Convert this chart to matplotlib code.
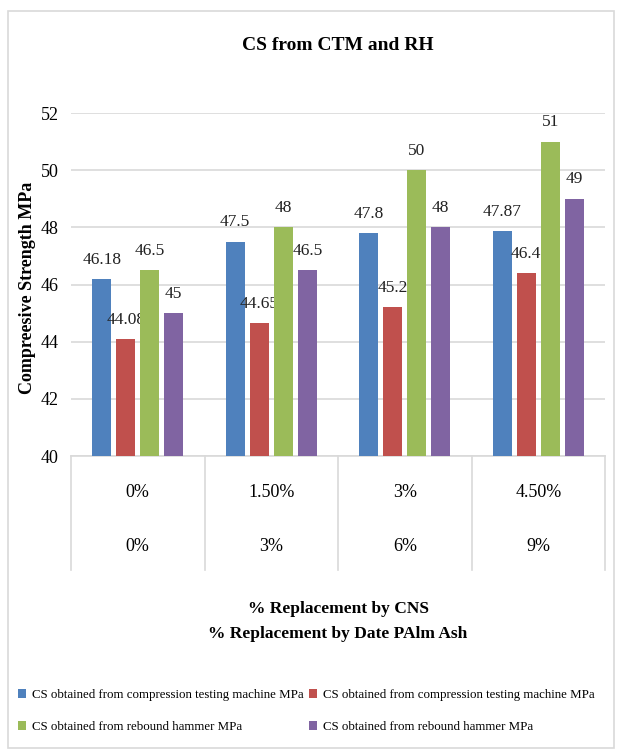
import matplotlib.pyplot as plt
import matplotlib.patches as mpatches
import numpy as np

# Replacement levels (two-row category axis)
cns_levels = ["0%", "1.50%", "3%", "4.50%"]
ash_levels = ["0%", "3%", "6%", "9%"]

# Compressive strength, MPa
ctm_a = [46.18, 47.5, 47.8, 47.87]
ctm_b = [44.08, 44.65, 45.2, 46.4]
rh_a = [46.5, 48, 50, 51]
rh_b = [45, 46.5, 48, 49]

series_names = [
    "CS obtained from compression testing machine MPa",
    "CS obtained from compression testing machine MPa",
    "CS obtained from rebound hammer MPa",
    "CS obtained from rebound hammer MPa",
]
colors = ["#4F81BD", "#C0504D", "#9BBB59", "#8064A2"]

plt.rcParams['font.family'] = ['Liberation Serif', 'DejaVu Serif']
grid_color = '#D9D9D9'

fig = plt.figure(figsize=(6.19, 7.53), dpi=100)
ax = fig.add_axes([0.1147, 0.3944, 0.8627, 0.4555])

# outer chart frame
fig.patches.append(mpatches.Rectangle((8 / 619, 1 - 748 / 753), 606 / 619, 737 / 753,
                                      transform=fig.transFigure, fill=False,
                                      edgecolor=grid_color, linewidth=1.2))

x = np.arange(len(cns_levels))
offsets = [-0.27, -0.09, 0.09, 0.27]
width = 0.143
handles = []
for vals, off, col, name in zip([ctm_a, ctm_b, rh_a, rh_b], offsets, colors, series_names):
    bars = ax.bar(x + off, vals, width, bottom=0, color=col, label=name, zorder=3)
    handles.append(bars)
    for b, v in zip(bars, vals):
        ax.annotate(f"{v:g}", (b.get_x() + b.get_width() / 2, v), xytext=(0, 14),
                    textcoords='offset points', ha='center', va='center',
                    fontsize=12.5, color='#222222', clip_on=False)

ax.set_ylim(40, 52)
ax.set_xlim(-0.5, len(cns_levels) - 0.5)
ax.set_yticks(np.arange(40, 53, 2))
ax.tick_params(axis='y', length=0, pad=9, labelsize=13)
ax.tick_params(axis='x', length=0, labelbottom=False)
ax.grid(axis='y', color=grid_color, linewidth=1.2, zorder=0)
for s in ['top', 'right', 'left']:
    ax.spines[s].set_visible(False)
ax.spines['bottom'].set_color(grid_color)
ax.spines['bottom'].set_linewidth(1.2)

# two-level category labels with separators
trans = ax.get_xaxis_transform()
for b in np.arange(-0.5, len(cns_levels), 1.0):
    ax.plot([b, b], [0, -0.332], color=grid_color, linewidth=1.2,
            transform=trans, clip_on=False)
for i in range(len(cns_levels)):
    ax.text(i, -0.105, cns_levels[i], transform=trans, ha='center', va='center', fontsize=13)
    ax.text(i, -0.265, ash_levels[i], transform=trans, ha='center', va='center', fontsize=13)

ax.text(0.5, -0.445, "% Replacement by CNS", transform=ax.transAxes,
        ha='center', va='center', fontsize=12.5, fontweight='bold')
ax.text(0.5, -0.52, "% Replacement by Date PAlm Ash", transform=ax.transAxes,
        ha='center', va='center', fontsize=12.5, fontweight='bold')

fig.text(27 / 619, 1 - 288 / 753, "Compreesive Strength MPa", rotation=90,
         ha='center', va='center', fontsize=13, fontweight='bold')
fig.text(338 / 619, 1 - 45 / 753, "CS from CTM and RH", ha='center', va='center',
         fontsize=14, fontweight='bold')

# legend filled row by row: blue, red / green, purple
order = [0, 2, 1, 3]
fig.legend([handles[k] for k in order], [series_names[k] for k in order],
           loc='center left', bbox_to_anchor=(12 / 619, 1 - 711 / 753), ncol=2,
           frameon=False, fontsize=9.3, handlelength=0.55, handleheight=0.7,
           handletextpad=0.5, columnspacing=0.45, labelspacing=1.5, borderpad=0)

fig.savefig("out.png", dpi=100)
